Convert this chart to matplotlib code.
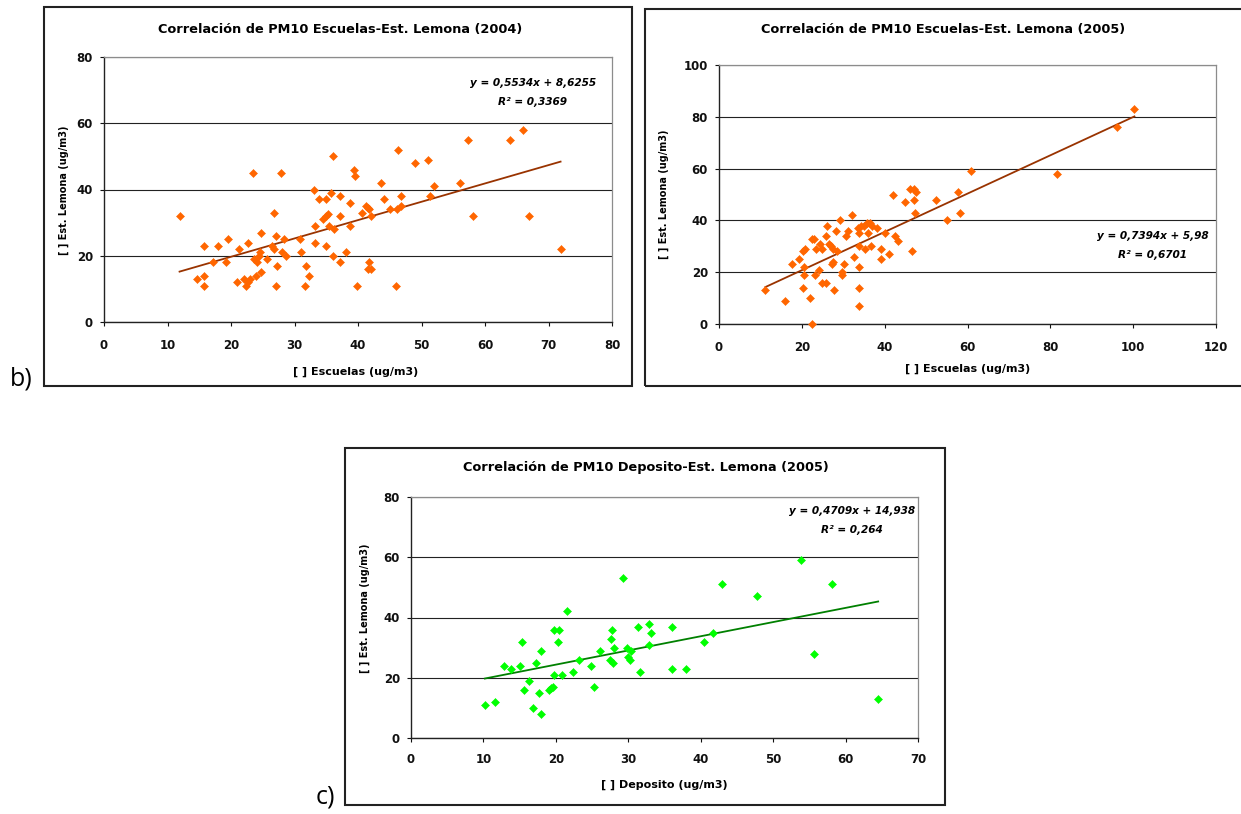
import matplotlib
matplotlib.use("Agg")
import matplotlib.pyplot as plt
from matplotlib.patches import Rectangle

W, H = 1241, 814

# --- b) left: Escuelas vs Est. Lemona, 2004 ---
esc04_x = [11.9, 15.7, 14.6, 15.7, 15.7, 17.2, 17.9, 19.2, 19.6, 21.2, 21.0, 22.6,
           22.0, 22.6, 22.4, 23.0, 23.4, 23.7, 24.1, 24.4, 24.6, 24.0, 24.8, 24.8,
           25.6, 26.7, 27.1, 26.4, 26.8, 27.2, 27.1, 27.8, 28.3, 28.0, 28.6, 30.9,
           31.0, 31.8, 32.3, 31.6, 33.1, 33.3, 33.3, 33.9, 35.0, 34.5, 35.0, 35.3,
           35.4, 36.2, 35.0, 36.1, 35.7, 36.0, 37.1, 37.2, 37.1, 38.1, 38.8, 38.8,
           39.3, 39.5, 39.8, 41.3, 41.6, 41.8, 40.7, 42.0, 41.7, 41.5, 42.0, 43.6,
           44.1, 45.1, 46.1, 46.8, 46.8, 46.3, 46.0, 49.0, 51.1, 51.3, 52.0, 56.0,
           57.4, 58.1, 64.0, 66.0, 67.0, 71.9]
esc04_y = [32, 23, 13, 14, 11, 18, 23, 18, 25, 22, 12, 24,
           13, 12, 11, 13, 45, 19, 18, 20, 21, 14, 15, 27,
           19, 33, 26, 23, 22, 17, 11, 45, 25, 21, 20, 25,
           21, 17, 14, 11, 40, 29, 24, 37, 37, 31, 32, 32.5,
           29, 28, 23, 50, 39, 20, 38, 32, 18, 21, 29, 36,
           46, 44, 11, 35, 34.5, 34, 33, 32, 18, 16, 16, 42,
           37, 34, 34, 35, 38, 52, 11, 48, 49, 38, 41, 42,
           55, 32, 55, 58, 32, 22]
trend04 = (0.5534, 8.6255)

# --- b) right: Escuelas vs Est. Lemona, 2005 ---
esc05_x = [11.2, 15.9, 17.6, 19.4, 20.4, 20.8, 20.5, 20.6, 20.4, 22.0, 22.5, 22.5,
           23.0, 23.1, 23.5, 24.1, 24.4, 24.9, 24.9, 25.9, 26.0, 25.9, 26.5, 27.0,
           27.5, 27.2, 27.5, 27.8, 28.3, 28.4, 29.3, 29.7, 29.7, 30.2, 30.6, 31.2,
           32.2, 32.5, 33.5, 34.3, 34.9, 35.7, 36.4, 37.0, 38.1, 33.9, 35.9, 33.8,
           35.2, 36.7, 33.9, 33.9, 33.9, 39.1, 39.1, 40.2, 41.0, 41.9, 42.6, 43.2,
           44.8, 46.2, 47.0, 47.5, 47.0, 47.4, 46.7, 52.4, 55.0, 57.8, 58.3, 60.8,
           81.6, 96.1, 100.3]
esc05_y = [13, 9, 23, 25, 28, 29, 22, 19, 14, 10, 0, 33,
           33, 19, 29, 21, 31, 29, 16, 16, 38, 34, 31, 30,
           29, 23, 24, 13, 36, 28, 40, 20, 19, 23, 34, 36,
           42, 26, 37, 38, 38, 39, 39, 38, 37, 35, 35, 30,
           29, 30, 22, 14, 7, 29, 25, 35, 27, 50, 34, 32,
           47, 52, 52, 51, 48, 43, 28, 48, 40, 51, 43, 59,
           58, 76, 83]
trend05 = (0.7394, 5.98)

# --- c): Deposito vs Est. Lemona, 2005 ---
dep_x = [10.2, 11.6, 12.8, 13.8, 15.0, 15.3, 15.6, 16.3, 16.9, 17.3, 17.7, 17.9,
         17.9, 19.0, 19.3, 19.6, 19.7, 19.7, 20.5, 20.3, 20.8, 21.6, 22.3, 23.2,
         24.9, 25.2, 26.1, 27.5, 27.6, 27.7, 28.0, 27.9, 29.3, 29.8, 29.9, 30.2,
         30.4, 31.3, 31.6, 32.9, 33.2, 32.9, 36.0, 36.0, 37.9, 40.5, 41.7, 43.0,
         47.8, 53.8, 55.6, 58.1, 64.5]
dep_y = [11, 12, 24, 23, 24, 32, 16, 19, 10, 25, 15, 29,
         8, 16, 16.6, 17, 21, 36, 36, 32, 21, 42, 22, 26,
         24, 17, 29, 26, 33, 36, 30, 25, 53, 30, 27, 26,
         29, 37, 22, 38, 35, 31, 37, 23, 23, 32, 35, 51,
         47, 59, 28, 51, 13]
trend_dep = (0.4709, 14.938)

BOLD = dict(family="DejaVu Sans", fontweight="bold")


def fx(px):
    return px / W


def fy(py):
    return 1 - py / H


def frame(fig, x0, y0, x1, y1):
    fig.add_artist(Rectangle((fx(x0), fy(y1)), fx(x1 - x0), (y1 - y0) / H,
                             transform=fig.transFigure, fill=False,
                             ec="#222222", lw=1.5))


def panel(fig, box, x, y, coef, pt_color, ln_color, xmax, xstep, ymax, xpad):
    l, t, r, b = box
    ax = fig.add_axes([fx(l), fy(b), fx(r - l), (b - t) / H])
    ax.plot(x, y, ls="none", marker="D", ms=3.7, color=pt_color,
            mec=pt_color, mew=0.4, clip_on=False, zorder=3)
    xs = [min(x), max(x)]
    ax.plot(xs, [coef[0] * v + coef[1] for v in xs], color=ln_color, lw=1.3, zorder=2)

    ax.set_xlim(0, xmax)
    ax.set_ylim(0, ymax)
    ax.set_xticks(range(0, xmax + 1, xstep))
    ax.set_yticks(range(0, ymax + 1, 20))
    ax.yaxis.grid(True, color="#222222", lw=0.8)
    ax.set_axisbelow(True)
    for s in ("top", "right"):
        ax.spines[s].set_color("#8c8c8c")
        ax.spines[s].set_linewidth(0.9)
    for s in ("left", "bottom"):
        ax.spines[s].set_color("#222222")
        ax.spines[s].set_linewidth(1.0)
    ax.tick_params(axis="x", direction="out", length=3, width=0.8, pad=xpad,
                   labelsize=8.5, colors="#111111")
    ax.tick_params(axis="y", direction="out", length=3, width=0.8, pad=5,
                   labelsize=8.5, colors="#111111")
    for lab in ax.get_xticklabels() + ax.get_yticklabels():
        lab.set_fontweight("bold")
    return ax


def main():
    fig = plt.figure(figsize=(W / 100, H / 100), dpi=100)
    fig.patch.set_facecolor("white")

    # chart frames
    frame(fig, 44, 7, 632, 386)
    frame(fig, 645, 9, 1250, 386)
    frame(fig, 345, 448, 945, 805)

    orange, brown = "#FF6600", "#993300"
    panel(fig, (104, 57, 612, 322), esc04_x, esc04_y, trend04, orange, brown, 80, 10, 80, 9.5)
    panel(fig, (719, 65, 1216, 324), esc05_x, esc05_y, trend05, orange, brown, 120, 20, 100, 9)
    panel(fig, (411, 497, 918, 738), dep_x, dep_y, trend_dep, "#00FF00", "#008000", 70, 10, 80, 8)

    # titles
    fig.text(fx(340), fy(29), "Correlación de PM10 Escuelas-Est. Lemona (2004)",
             ha="center", va="center", fontsize=9.3, **BOLD)
    fig.text(fx(943), fy(30), "Correlación de PM10 Escuelas-Est. Lemona (2005)",
             ha="center", va="center", fontsize=9.3, **BOLD)
    fig.text(fx(646), fy(468), "Correlación de PM10 Deposito-Est. Lemona (2005)",
             ha="center", va="center", fontsize=9.3, **BOLD)

    # axis labels
    fig.text(fx(356), fy(372), "[ ] Escuelas (ug/m3)", ha="center", va="center", fontsize=8, **BOLD)
    fig.text(fx(968), fy(369), "[ ] Escuelas (ug/m3)", ha="center", va="center", fontsize=8, **BOLD)
    fig.text(fx(664), fy(785), "[ ] Deposito (ug/m3)", ha="center", va="center", fontsize=8, **BOLD)
    fig.text(fx(64), fy(190), "[ ] Est. Lemona (ug/m3)", rotation=90,
             ha="center", va="center", fontsize=7, **BOLD)
    fig.text(fx(664), fy(194), "[ ] Est. Lemona (ug/m3)", rotation=90,
             ha="center", va="center", fontsize=7, **BOLD)
    fig.text(fx(365), fy(608), "[ ] Est. Lemona (ug/m3)", rotation=90,
             ha="center", va="center", fontsize=7, **BOLD)

    # trendline equations
    eq = dict(family="DejaVu Sans", fontweight="bold", style="italic",
              fontsize=7.6, ha="center", va="center")
    fig.text(fx(533), fy(83), "y = 0,5534x + 8,6255", **eq)
    fig.text(fx(533), fy(102), "R² = 0,3369", **eq)
    fig.text(fx(1153), fy(236), "y = 0,7394x + 5,98", **eq)
    fig.text(fx(1153), fy(255), "R² = 0,6701", **eq)
    fig.text(fx(852), fy(511), "y = 0,4709x + 14,938", **eq)
    fig.text(fx(852), fy(530), "R² = 0,264", **eq)

    # panel letters
    fig.text(fx(10), fy(386), "b)", ha="left", va="baseline", fontsize=18, family="Open Sans")
    fig.text(fx(316), fy(803), "c)", ha="left", va="baseline", fontsize=18, family="Open Sans")

    fig.savefig("out.png", dpi=100)


if __name__ == "__main__":
    main()
